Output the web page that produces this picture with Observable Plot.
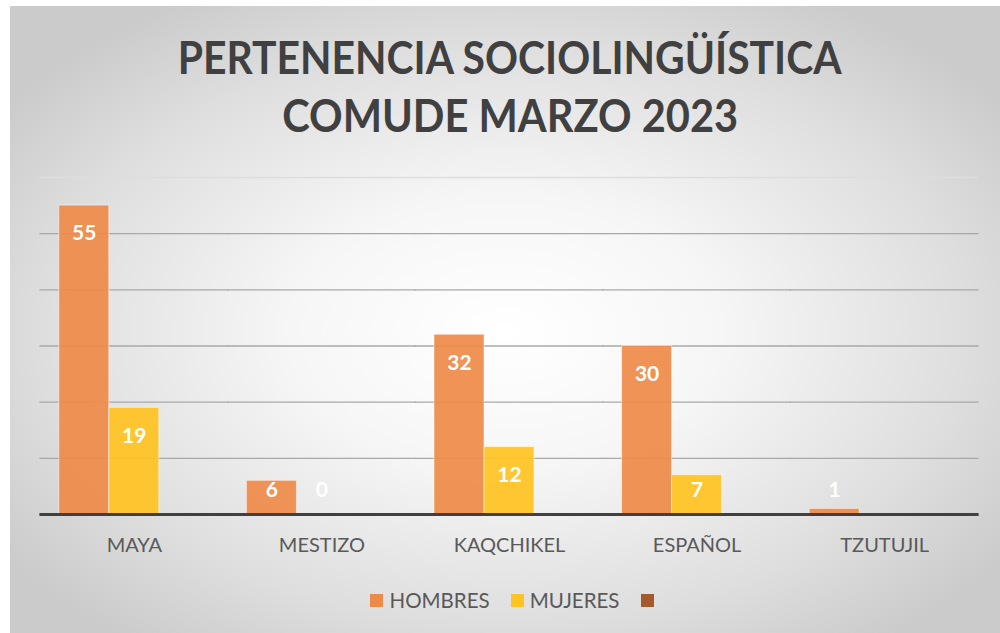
<!DOCTYPE html>
<html>
<head>
<meta charset="utf-8">
<script src="https://cdn.jsdelivr.net/npm/d3@7"></script>
<script src="https://cdn.jsdelivr.net/npm/@observablehq/plot@0.6"></script>
<style>
  html, body { margin: 0; padding: 0; background: #ffffff; }
  #wrap { position: relative; width: 1000px; height: 633px; overflow: hidden; background: #fff; }
  #panel { position: absolute; left: 10px; top: 6px; width: 990px; height: 627px;
    background: radial-gradient(ellipse 62% 62% at 50% 52%, #ffffff 0%, #f6f6f6 35%, #dedede 75%, #cbcbcb 100%); }
  #title { position: absolute; left: 0; top: 0; width: 1020px; text-align: center;
    font-family: Lato, "Open Sans", sans-serif; font-weight: bold; color: #404040; }
  #title div { position: absolute; left: 0; width: 100%; text-align: center; font-size: 46px; line-height: 46px; }
  #title span { display: inline-block; white-space: nowrap; transform-origin: 50% 50%; }
  #chart { position: absolute; left: 0; top: 150px; }
  #legend { position: absolute; left: 13px; top: 588px; width: 1004px; display: flex; justify-content: center;
    font-family: Lato, "Open Sans", sans-serif; font-size: 20.5px; color: #595959; }
  .item { display: flex; align-items: center; margin: 0 10.5px; }
  .sw { width: 13px; height: 13px; margin-right: 6px; }
</style>
</head>
<body>
<div id="wrap">
  <div id="panel"></div>
  <div id="title">
    <div style="top:34px"><span id="t1">PERTENENCIA SOCIOLINGÜÍSTICA</span></div>
    <div style="top:92px"><span id="t2">COMUDE MARZO 2023</span></div>
  </div>
  <div id="chart"></div>
  <div id="legend"></div>
</div>
<script>
const categories = ["MAYA", "MESTIZO", "KAQCHIKEL", "ESPAÑOL", "TZUTUJIL"];
const series = ["HOMBRES", "MUJERES", ""];
const hombres = [55, 6, 32, 30, 1];
const mujeres = [19, 0, 12, 7, null];
const tercera = [null, null, null, null, null];
const colors = ["#EE8A48", "#FFC322", "#A65A2B"];
const yTicks = [0, 10, 20, 30, 40, 50, 60];

const valuesBySeries = [hombres, mujeres, tercera];
const rows = [];
categories.forEach((c, i) => {
  series.forEach((s, j) => {
    const v = valuesBySeries[j][i];
    if (v !== null && v !== undefined) rows.push({cat: c, serie: s, value: v});
  });
});

const chart = Plot.plot({
  width: 1000,
  height: 420,
  marginLeft: 40,
  marginRight: 22,
  marginTop: 27,
  marginBottom: 56,
  style: {background: "transparent", fontFamily: "Lato, 'Open Sans', sans-serif", fontSize: "20px", color: "#595959", overflow: "visible"},
  facet: {data: rows, x: "cat"},
  fx: {domain: categories, padding: 0, round: false, label: null, tickSize: 0, tickPadding: 23},
  x: {domain: series, paddingInner: 0, paddingOuter: 0.376, round: false, axis: null},
  y: {domain: [yTicks[0], yTicks[yTicks.length - 1]], axis: null},
  color: {domain: series, range: colors},
  marks: [
    Plot.ruleY(yTicks.filter(t => t > 0 && t < 60), {stroke: "#a8a8a8", strokeWidth: 1.3, insetLeft: -0.6, insetRight: -0.6}),
    Plot.ruleY([60], {stroke: "#dddddd", strokeWidth: 1.3, insetLeft: -0.6, insetRight: -0.6}),
    Plot.barY(rows, {x: "serie", y: "value", fill: "serie", fillOpacity: 0.92,
      stroke: "#ffffff", strokeOpacity: 0.5, strokeWidth: 1}),
    Plot.ruleY([0], {stroke: "#404040", strokeWidth: 3, insetLeft: -0.6, insetRight: -0.6}),
    Plot.text(rows, {x: "serie", y: d => Math.max(d.value - 5, 4.27), text: d => String(d.value),
      fill: "#ffffff", fontWeight: "bold", fontSize: 21})
  ]
});
document.getElementById("chart").appendChild(chart);

// legend
const legend = document.getElementById("legend");
series.forEach((s, j) => {
  const it = document.createElement("div");
  it.className = "item";
  const sw = document.createElement("div");
  sw.className = "sw";
  sw.style.background = colors[j];
  it.appendChild(sw);
  const tx = document.createElement("span");
  tx.textContent = s;
  it.appendChild(tx);
  legend.appendChild(it);
});

// fit title widths (Calibri-like condensed look)
const fit = (id, w) => {
  const el = document.getElementById(id);
  const r = el.getBoundingClientRect().width;
  el.style.transform = `scaleX(${w / r})`;
};
fit("t1", 664);
fit("t2", 456);
</script>
</body>
</html>
